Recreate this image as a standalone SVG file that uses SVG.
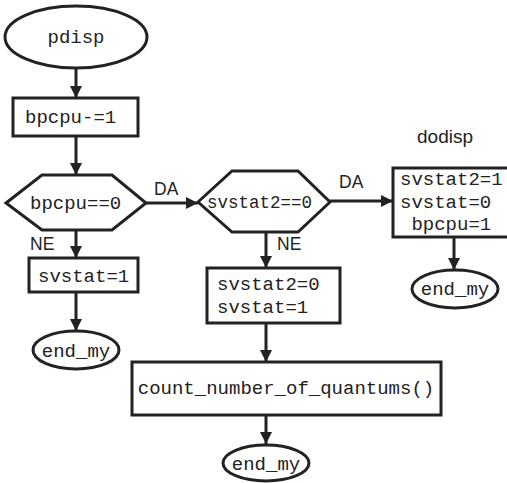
<svg xmlns="http://www.w3.org/2000/svg" width="507" height="483" viewBox="0 0 507 483">
<defs>
<style>
.s{fill:#fff;stroke:#222;stroke-width:3}
.m{font-family:"Liberation Mono","DejaVu Sans Mono",monospace;font-size:19px;fill:#222}
.l{font-family:"Liberation Sans",Arial,sans-serif;font-size:17.5px;fill:#222}
.c{fill:none;stroke:#222;stroke-width:3}
</style>
<marker id="a" viewBox="0 0 12 12" refX="12" refY="6" markerWidth="12" markerHeight="12" markerUnits="userSpaceOnUse" orient="auto">
<path d="M0,0 L12,6 L0,12 Z" fill="#222"/>
</marker>
</defs>
<g id="connectors">
<path class="c" d="M76,68 V98" marker-end="url(#a)"/>
<path class="c" d="M76,136 V175" marker-end="url(#a)"/>
<path class="c" d="M146,203 H198" marker-end="url(#a)"/>
<path class="c" d="M330,201 H393" marker-end="url(#a)"/>
<path class="c" d="M76,230 V258" marker-end="url(#a)"/>
<path class="c" d="M76,292 V331" marker-end="url(#a)"/>
<path class="c" d="M266,232 V268" marker-end="url(#a)"/>
<path class="c" d="M266,323 V362" marker-end="url(#a)"/>
<path class="c" d="M266,415 V444" marker-end="url(#a)"/>
<path class="c" d="M454,237 V270" marker-end="url(#a)"/>
<text class="l" x="154" y="195">DA</text>
<text class="l" x="339" y="188">DA</text>
<text class="l" x="30" y="250">NE</text>
<text class="l" x="277" y="250">NE</text>
</g>
<g id="pdisp">
<ellipse class="s" cx="76" cy="37" rx="71" ry="31"/>
<text class="m" x="76" y="43" text-anchor="middle">pdisp</text>
</g>
<g id="dec1">
<rect class="s" x="13" y="98" width="125" height="38"/>
<text class="m" x="25" y="123">bpcpu-=1</text>
</g>
<g id="cond1">
<polygon class="s" points="6,203 42,175 112,175 146,203 112,230 42,230"/>
<text class="m" x="30" y="209">bpcpu==0</text>
</g>
<g id="set1">
<rect class="s" x="29" y="258" width="109" height="34"/>
<text class="m" x="38" y="282">svstat=1</text>
</g>
<g id="end1">
<ellipse class="s" cx="76" cy="350" rx="43" ry="19"/>
<text class="m" x="76" y="357" text-anchor="middle">end_my</text>
</g>
<g id="cond2">
<polygon class="s" points="198,202 232,171 298,171 330,202 298,232 232,232"/>
<text class="m" x="207" y="208" style="font-size:17.5px">svstat2==0</text>
</g>
<g id="dodisp">
<text class="l" x="445" y="143" text-anchor="middle" style="font-size:19px">dodisp</text>
<rect class="s" x="393" y="168" width="120" height="69"/>
<text class="m" x="400" y="185">svstat2=1</text>
<text class="m" x="400" y="208">svstat=0</text>
<text class="m" x="411.4" y="230">bpcpu=1</text>
</g>
<g id="end2">
<ellipse class="s" cx="455" cy="289" rx="43" ry="19"/>
<text class="m" x="455" y="295" text-anchor="middle">end_my</text>
</g>
<g id="set2">
<rect class="s" x="207" y="268" width="133" height="55"/>
<text class="m" x="217" y="290">svstat2=0</text>
<text class="m" x="217" y="313">svstat=1</text>
</g>
<g id="count">
<rect class="s" x="132" y="362" width="309" height="53"/>
<text class="m" x="286" y="394" text-anchor="middle">count_number_of_quantums()</text>
</g>
<g id="end3">
<ellipse class="s" cx="266" cy="463" rx="43" ry="18"/>
<text class="m" x="266" y="470" text-anchor="middle">end_my</text>
</g>
</svg>
